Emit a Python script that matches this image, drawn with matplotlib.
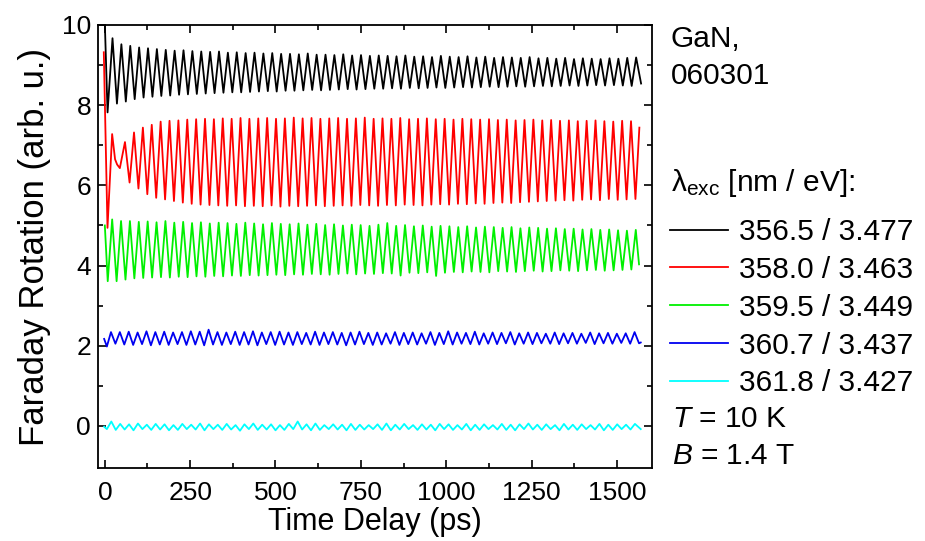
import numpy as np
import matplotlib
matplotlib.use("Agg")
import matplotlib.pyplot as plt

plt.rcParams['font.family'] = 'Liberation Sans'
plt.rcParams['mathtext.fontset'] = 'custom'
plt.rcParams['mathtext.rm'] = 'Liberation Sans'
plt.rcParams['mathtext.it'] = 'Liberation Sans:italic'

# precession period (ps)
period = 26.0
half = period / 2

# 356.5 nm (black)
black_head_t = [-2, 8]
black_head_y = [10.6, 7.82]
black_t0 = 22.5
black_first = 'peak'
black_peaks = [9.67, 9.52, 9.48, 9.44, 9.42, 9.40, 9.38, 9.36, 9.37, 9.35,
               9.34, 9.33, 9.34, 9.31, 9.32, 9.30, 9.31, 9.29, 9.30, 9.28,
               9.28, 9.27, 9.29, 9.26, 9.26, 9.25, 9.27, 9.24, 9.25, 9.23,
               9.24, 9.23, 9.22, 9.24, 9.21, 9.22, 9.20, 9.23, 9.21, 9.20,
               9.22, 9.19, 9.21, 9.18, 9.20, 9.19, 9.18, 9.20, 9.17, 9.18,
               9.16, 9.18, 9.15, 9.17, 9.16, 9.15, 9.17, 9.16, 9.18, 9.19]
black_troughs = [8.04, 8.09, 8.15, 8.19, 8.21, 8.23, 8.24, 8.26, 8.27, 8.28,
                 8.29, 8.30, 8.31, 8.32, 8.32, 8.33, 8.34, 8.35, 8.34, 8.36,
                 8.36, 8.37, 8.38, 8.37, 8.38, 8.39, 8.40, 8.39, 8.40, 8.41,
                 8.41, 8.42, 8.41, 8.43, 8.42, 8.43, 8.44, 8.43, 8.44, 8.45,
                 8.44, 8.45, 8.46, 8.45, 8.46, 8.47, 8.46, 8.47, 8.48, 8.47,
                 8.48, 8.49, 8.48, 8.49, 8.50, 8.49, 8.50, 8.49, 8.48]
black_end = (1571, 8.54)

# 358.0 nm (red)
red_head_t = [-3, 7.8, 21.4, 30, 36, 44, 59]
red_head_y = [9.32, 4.94, 7.28, 6.65, 6.52, 6.43, 7.08]
red_t0 = 72.5
red_first = 'trough'
red_peaks = [7.32, 7.44, 7.51, 7.59, 7.61, 7.62, 7.64, 7.65, 7.66, 7.65,
             7.67, 7.66, 7.68, 7.66, 7.67, 7.68, 7.66, 7.67, 7.69, 7.67,
             7.68, 7.66, 7.67, 7.68, 7.66, 7.67, 7.69, 7.66, 7.67, 7.66,
             7.68, 7.65, 7.66, 7.67, 7.65, 7.66, 7.64, 7.66, 7.65, 7.64,
             7.65, 7.63, 7.64, 7.62, 7.63, 7.64, 7.62, 7.63, 7.61, 7.62,
             7.60, 7.61, 7.62, 7.60, 7.59, 7.61, 7.60]
red_troughs = [6.07, 5.92, 5.78, 5.69, 5.65, 5.61, 5.57, 5.54, 5.52, 5.51,
               5.50, 5.49, 5.50, 5.48, 5.49, 5.48, 5.50, 5.47, 5.49, 5.48,
               5.49, 5.50, 5.48, 5.49, 5.50, 5.49, 5.51, 5.50, 5.49, 5.51,
               5.50, 5.52, 5.51, 5.50, 5.52, 5.53, 5.52, 5.54, 5.53, 5.55,
               5.54, 5.56, 5.57, 5.56, 5.58, 5.59, 5.60, 5.61, 5.62, 5.63,
               5.62, 5.64, 5.65, 5.63, 5.66, 5.64, 5.65, 5.66]
red_end = (1566, 7.44)

# 359.5 nm (green)
green_head_t = [0]
green_head_y = [5.0]
green_t0 = 8.5
green_first = 'trough'
green_peaks = [5.15, 5.11, 5.11, 5.09, 5.10, 5.08, 5.11, 5.07, 5.09, 5.06,
               5.08, 5.05, 5.07, 5.06, 5.04, 5.07, 5.05, 5.03, 5.06, 5.04,
               5.03, 5.05, 5.02, 5.04, 5.01, 5.03, 5.00, 5.02, 5.01, 4.99,
               5.02, 5.06, 4.99, 5.01, 4.98, 5.00, 4.97, 4.99, 4.98, 4.96,
               4.98, 4.95, 4.97, 4.96, 4.94, 4.96, 4.93, 4.95, 4.94, 4.92,
               4.93, 4.91, 4.92, 4.90, 4.91, 4.89, 4.90, 4.88, 4.87, 4.89]
green_troughs = [3.61, 3.61, 3.65, 3.68, 3.69, 3.70, 3.71, 3.70, 3.72, 3.71,
                 3.73, 3.72, 3.74, 3.73, 3.75, 3.74, 3.76, 3.75, 3.76, 3.77,
                 3.76, 3.78, 3.77, 3.79, 3.78, 3.77, 3.79, 3.80, 3.78, 3.80,
                 3.79, 3.81, 3.80, 3.75, 3.82, 3.81, 3.83, 3.74, 3.82, 3.84,
                 3.83, 3.85, 3.84, 3.83, 3.86, 3.85, 3.84, 3.86, 3.87, 3.85,
                 3.86, 3.88, 3.87, 3.86, 3.88, 3.89, 3.87, 3.88, 3.89, 3.90]
green_end = (1565, 4.03)

# 360.7 nm (blue)
blue_head_t = [-2, 6]
blue_head_y = [2.17, 1.98]
blue_t0 = 18
blue_first = 'peak'
blue_peaks = [2.34, 2.34, 2.35, 2.33, 2.36, 2.34, 2.35, 2.33, 2.34, 2.36,
              2.35, 2.40, 2.34, 2.33, 2.35, 2.34, 2.36, 2.33, 2.34, 2.35,
              2.33, 2.34, 2.32, 2.35, 2.33, 2.34, 2.32, 2.33, 2.35, 2.32,
              2.33, 2.31, 2.34, 2.32, 2.33, 2.31, 2.34, 2.32, 2.36, 2.33,
              2.32, 2.35, 2.31, 2.33, 2.32, 2.34, 2.31, 2.33, 2.32, 2.30,
              2.33, 2.31, 2.32, 2.30, 2.33, 2.31, 2.32, 2.30, 2.31, 2.34]
blue_troughs = [2.05, 2.03, 2.02, 2.04, 2.01, 2.03, 2.02, 2.04, 2.02, 2.03,
                2.01, 2.03, 2.02, 2.04, 2.02, 2.03, 2.01, 2.04, 2.02, 2.03,
                2.02, 2.04, 2.03, 2.02, 2.04, 2.03, 2.01, 2.03, 2.04, 2.02,
                2.03, 2.05, 2.02, 2.04, 2.03, 2.05, 2.02, 2.04, 2.03, 2.05,
                2.04, 2.03, 2.05, 2.04, 2.06, 2.03, 2.05, 2.04, 2.06, 2.05,
                2.04, 2.06, 2.05, 2.07, 2.04, 2.06, 2.05, 2.07, 2.05, 2.06]
blue_end = (1570, 2.08)

# 361.8 nm (cyan)
cyan_head_t = [-2]
cyan_head_y = [-0.02]
cyan_t0 = 6
cyan_first = 'trough'
cyan_peaks = [0.11, 0.05, 0.04, 0.06, 0.03, 0.05, 0.04, 0.02, 0.05, 0.03,
              0.06, 0.04, 0.03, 0.05, 0.02, 0.04, 0.06, 0.03, 0.04, 0.02,
              0.05, 0.11, 0.04, 0.06, 0.02, 0.04, 0.03, 0.05, 0.03, 0.02,
              0.04, 0.06, 0.03, 0.05, 0.02, 0.04, 0.03, 0.05, 0.04, 0.02,
              0.05, 0.03, 0.04, 0.02, 0.05, 0.03, 0.04, 0.06, 0.03, 0.04,
              0.02, 0.05, 0.03, 0.04, 0.02, 0.05, 0.03, 0.04, 0.03, 0.05]
cyan_troughs = [-0.08, -0.10, -0.09, -0.11, -0.08, -0.10, -0.09, -0.11, -0.10, -0.08,
                -0.09, -0.11, -0.08, -0.10, -0.09, -0.12, -0.08, -0.10, -0.09, -0.11,
                -0.10, -0.08, -0.09, -0.11, -0.10, -0.08, -0.09, -0.11, -0.10, -0.09,
                -0.08, -0.10, -0.11, -0.09, -0.08, -0.10, -0.09, -0.11, -0.08, -0.10,
                -0.09, -0.11, -0.10, -0.08, -0.09, -0.10, -0.11, -0.08, -0.09, -0.10,
                -0.08, -0.11, -0.09, -0.10, -0.08, -0.09, -0.11, -0.10, -0.08, -0.09]
cyan_end = (1570, -0.08)

labels = ['356.5 / 3.477', '358.0 / 3.463', '359.5 / 3.449', '360.7 / 3.437', '361.8 / 3.427']
colors = ['black', '#ff0000', '#00f000', '#0000f0', '#00ffff']


def trace(head_t, head_y, t0, first, peaks, troughs, end):
    a, b = (peaks, troughs) if first == 'peak' else (troughs, peaks)
    ext = []
    for i in range(len(a)):
        ext.append(a[i])
        if i < len(b):
            ext.append(b[i])
    t_ext = t0 + half * np.arange(len(ext))
    t = np.concatenate([head_t, t_ext, [end[0]]])
    y = np.concatenate([head_y, ext, [end[1]]])
    return t, y


traces = [
    trace(black_head_t, black_head_y, black_t0, black_first, black_peaks, black_troughs, black_end),
    trace(red_head_t, red_head_y, red_t0, red_first, red_peaks, red_troughs, red_end),
    trace(green_head_t, green_head_y, green_t0, green_first, green_peaks, green_troughs, green_end),
    trace(blue_head_t, blue_head_y, blue_t0, blue_first, blue_peaks, blue_troughs, blue_end),
    trace(cyan_head_t, cyan_head_y, cyan_t0, cyan_first, cyan_peaks, cyan_troughs, cyan_end),
]

fig = plt.figure(figsize=(9.25, 5.41), dpi=100)
ax = fig.add_axes([98 / 925, 1 - 468 / 541, (652 - 98) / 925, (468 - 25) / 541])

handles = []
for (t, y), c, lab in zip(traces, colors, labels):
    h, = ax.plot(t, y, color=c, lw=1.3, label=lab, solid_joinstyle='round')
    handles.append(h)

ax.set_xlim(-20, 1603)
ax.set_ylim(-1.05, 10)
ax.set_xticks([0, 250, 500, 750, 1000, 1250, 1500])
ax.set_xticks(np.arange(125, 1600, 250), minor=True)
ax.set_yticks([0, 2, 4, 6, 8, 10])
ax.set_yticks([1, 3, 5, 7, 9], minor=True)
ax.tick_params(which='both', direction='in', top=True, right=True, labelsize=19, width=1.2)
ax.tick_params(which='major', length=6)
ax.tick_params(which='minor', length=3.5)
ax.tick_params(axis='x', pad=9)
ax.tick_params(axis='y', pad=5)
for s in ax.spines.values():
    s.set_linewidth(1.3)

ax.set_xlabel('Time Delay (ps)', fontsize=22, labelpad=2)
ax.set_ylabel('Faraday Rotation (arb. u.)', fontsize=25, labelpad=8)

fs = 21.5
fig.text(671 / 925, 1 - 39 / 541, 'GaN,', fontsize=fs, va='center')
fig.text(671 / 925, 1 - 76 / 541, '060301', fontsize=fs, va='center')
fig.text(671 / 925, 1 - 183 / 541, r'$\mathrm{\lambda_{exc}}$ [nm / eV]:', fontsize=fs, va='center')

ax.legend(handles=handles, loc='upper left', bbox_to_anchor=(664 / 925, 1 - 212 / 541),
          bbox_transform=fig.transFigure, frameon=False, fontsize=fs,
          handlelength=1.95, handletextpad=0.35, labelspacing=0.33, borderpad=0.2,
          borderaxespad=0)

fig.text(672 / 925, 1 - 419 / 541, r'$T$ = 10 K', fontsize=fs, va='center')
fig.text(672 / 925, 1 - 456 / 541, r'$B$ = 1.4 T', fontsize=fs, va='center')

fig.savefig('out.png', dpi=100)
